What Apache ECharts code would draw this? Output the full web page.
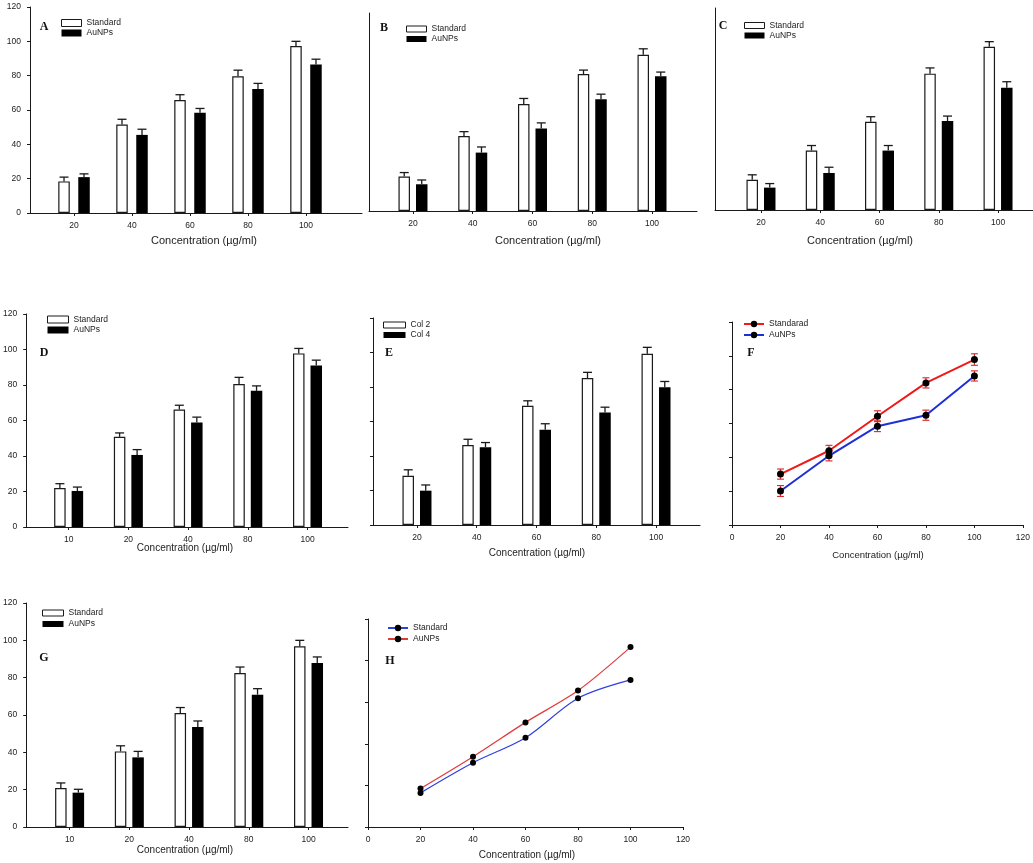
<!DOCTYPE html>
<html><head><meta charset="utf-8">
<script src="https://cdn.jsdelivr.net/npm/echarts@6/dist/echarts.min.js"></script>
<style>html,body{margin:0;padding:0;background:#fff}#c{width:1033px;height:863px}</style>
</head><body><div id="c"></div>
<script>
// ---------------- data ----------------
const concA = ['20', '40', '60', '80', '100'];
const concD = ['10', '20', '40', '80', '100'];
const lineX = [20, 40, 60, 80, 100];
const xTitle = 'Concentration (µg/ml)';

const aStd = [18.4, 51.5, 65.8, 79.7, 97.3];
const aStdErr = [2.5, 3.1, 3.1, 3.5, 2.7];
const aAu = [20.9, 45.5, 58.4, 72.2, 86.5];
const aAuErr = [1.9, 3.3, 2.5, 3.3, 3.1];

const bStd = [20.9, 45.5, 64.8, 83.0, 94.7];
const bStdErr = [2.4, 2.6, 3.4, 2.4, 3.6];
const bAu = [16.2, 35.4, 50.0, 67.8, 81.6];
const bAuErr = [2.6, 3.4, 3.4, 3.0, 2.6];

const cStd = [17.9, 35.3, 52.4, 81.0, 97.0];
const cStdErr = [3.0, 3.0, 3.0, 3.4, 3.0];
const cAu = [13.3, 22.0, 35.3, 52.8, 72.6];
const cAuErr = [2.4, 3.4, 3.0, 3.0, 3.6];

const dStd = [22.0, 50.8, 66.2, 80.5, 97.8];
const dStdErr = [2.4, 2.2, 2.4, 3.8, 2.8];
const dAu = [20.3, 40.6, 58.9, 76.7, 91.0];
const dAuErr = [2.2, 3.0, 3.0, 2.8, 3.0];

const eCol2 = [28.5, 46.4, 69.1, 85.2, 99.3];
const eCol2Err = [3.5, 3.3, 2.9, 3.3, 3.7];
const eCol4 = [19.9, 45.1, 55.2, 65.2, 79.9];
const eCol4Err = [3.3, 2.7, 3.5, 3.1, 3.3];

const fStd = [30.1, 43.9, 64.3, 84.0, 97.8];
const fStdErr = [3.0, 3.2, 3.2, 3.0, 3.4];
const fAu = [20.1, 40.9, 58.4, 64.9, 88.1];
const fAuErr = [3.2, 3.0, 3.2, 3.0, 3.0];

const gStd = [20.9, 40.5, 61.1, 82.5, 96.8];
const gStdErr = [2.7, 3.0, 2.9, 3.2, 3.2];
const gAu = [18.4, 37.3, 53.6, 70.9, 87.9];
const gAuErr = [1.8, 3.2, 3.2, 3.2, 3.2];

const hStd = [16.4, 30.9, 42.9, 61.9, 70.7];
const hAu = [18.5, 33.8, 50.3, 65.6, 86.5];

// ---------------- layout ----------------
const panels = [
  {key:'A', kind:'bar', grid:[30,7,332,206], xr:[0.241,5.966], cats:concA, names:['Standard','AuNPs'], s:[aStd,aAu], e:[aStdErr,aAuErr], yLab:true, yTick:true, bw:11.5, gap:8.5, letter:[44,27], leg:[61,18,20,7,0], title:[204,241,11]},
  {key:'B', kind:'bar', grid:[369,13,328,198], xr:[0.264,5.753], cats:concA, names:['Standard','AuNPs'], s:[bStd,bAu], e:[bStdErr,bAuErr], yLab:false, yTick:false, bw:11.5, gap:6, letter:[384,28], leg:[406,24,20,6,0], title:[548,241,11]},
  {key:'C', kind:'bar', grid:[715,8,318,202], xr:[0.224,5.59], cats:concA, names:['Standard','AuNPs'], s:[cStd,cAu], e:[cStdErr,cAuErr], yLab:false, yTick:false, bw:11.5, gap:6, letter:[723,26], leg:[744,20.5,20,6,0], title:[860,241,11]},
  {key:'D', kind:'bar', grid:[22,314,326,213], xr:[0.289,5.678], cats:concD, names:['Standard','AuNPs'], s:[dStd,dAu], e:[dStdErr,dAuErr], yLab:true, yTick:true, bw:11.5, gap:6, letter:[44,353], leg:[47,314.5,21,7,0.5], title:[185,548,10]},
  {key:'E', kind:'bar', grid:[373,318,327,207], xr:[0.264,5.736], cats:concA, names:['Col 2','Col 4'], s:[eCol2,eCol4], e:[eCol2Err,eCol4Err], yLab:false, yTick:true, bw:11.5, gap:6, letter:[389,353], leg:[383,320,22,6,0], title:[537,553,10]},
  {key:'F', kind:'line', grid:[732,322,294,203], ymax:120, names:['Standarad','AuNPs'], s:[fStd,fAu], e:[fStdErr,fAuErr], colors:['#f01818','#1f2fd8'], lw:2, sym:7, smooth:false, letter:[751,353], leg:[743,319,20,8,1], title:[878,555,9.5]},
  {key:'G', kind:'bar', grid:[22,603,326,224], xr:[0.273,5.661], cats:concD, names:['Standard','AuNPs'], s:[gStd,gAu], e:[gStdErr,gAuErr], yLab:true, yTick:true, bw:11.5, gap:6, letter:[44,658], leg:[42,608,21,6,1], title:[185,850,10]},
  {key:'H', kind:'line', grid:[368,619,315,208], ymax:100, names:['Standard','AuNPs'], s:[hStd,hAu], e:null, colors:['#2f3fe0','#e03a3a'], lw:1.2, sym:6, smooth:0.3, letter:[390,661], leg:[387,623,20,8,1], title:[527,855,10]}
];

const INK = '#1a1a1a';
const FONT = '"Liberation Sans", Arial, sans-serif';

function errRender(offset, capW, both, color, lw) {
  return function (params, api) {
    const x = api.value(0), y = api.value(1), e = api.value(2);
    const p = api.coord([x, y]);
    const up = api.coord([x, y + e]);
    const cx = p[0] + offset;
    const st = {stroke: color, lineWidth: lw};
    const ch = [
      {type:'line', shape:{x1:cx, y1:p[1], x2:cx, y2:up[1]}, style:st},
      {type:'line', shape:{x1:cx-capW/2, y1:up[1], x2:cx+capW/2, y2:up[1]}, style:st}
    ];
    if (both) {
      const dn = api.coord([x, y - e]);
      ch.push({type:'line', shape:{x1:cx, y1:p[1], x2:cx, y2:dn[1]}, style:st});
      ch.push({type:'line', shape:{x1:cx-capW/2, y1:dn[1], x2:cx+capW/2, y2:dn[1]}, style:st});
    }
    return {type:'group', children: ch};
  };
}

const option = {
  animation: false,
  backgroundColor: '#fff',
  grid: [], xAxis: [], yAxis: [], series: [], legend: [],
  graphic: {elements: []}
};

panels.forEach((p, gi) => {
  option.grid.push({left:p.grid[0], top:p.grid[1], width:p.grid[2], height:p.grid[3], containLabel:false});
  const axisLine = {show:true, onZero:false, lineStyle:{color:INK, width:1}};
  const lab = (show) => ({show:show, fontSize:8.5, color:'#222', fontFamily:FONT});
  const idx = [1,2,3,4,5];
  if (p.kind === 'bar') {
    option.xAxis.push({
      gridIndex: gi, type:'value', min:p.xr[0], max:p.xr[1],
      axisLine: axisLine, splitLine:{show:false},
      axisTick:{show:true, customValues: idx, length:3, lineStyle:{color:INK}},
      axisLabel:Object.assign(lab(true), {customValues: idx, margin:8, formatter: v => p.cats[Math.round(v) - 1]})
    });
    option.yAxis.push({
      gridIndex: gi, type:'value', min:0, max:120, interval:20,
      axisLine: axisLine, splitLine:{show:false},
      axisTick:{show:p.yTick, length:3, lineStyle:{color:INK}},
      axisLabel:Object.assign(lab(p.yLab), {margin:9})
    });
    const off = (p.bw + p.gap) / 2;
    p.names.forEach((nm, k) => {
      const white = k === 0;
      option.series.push({
        type:'bar', name: p.key + '|' + nm, xAxisIndex: gi, yAxisIndex: gi,
        barWidth: p.bw, barGap: (p.gap / p.bw * 100).toFixed(1) + '%',
        itemStyle: white ? {color:'#fff', borderColor:INK, borderWidth:1.2} : {color:'#000'},
        data: p.s[k].map((v, i) => [i + 1, v])
      });
      option.series.push({
        type:'custom', name: p.key + '|err' + k, xAxisIndex: gi, yAxisIndex: gi, z: 3,
        renderItem: errRender(white ? -off : off, 9, false, INK, 1.3),
        encode:{x:0, y:1},
        data: p.s[k].map((v, i) => [i + 1, v, p.e[k][i]])
      });
    });
    option.legend.push({
      left: p.leg[0], top: p.leg[1], orient:'vertical', itemWidth:p.leg[2], itemHeight:p.leg[3], itemGap:p.leg[4],
      padding:0, selectedMode:false,
      textStyle:{fontSize:8.5, color:'#222', fontFamily:FONT, lineHeight:10},
      formatter: n => n.split('|')[1],
      data: [
        {name:p.key + '|' + p.names[0], icon:'rect', itemStyle:{color:'#fff', borderColor:INK, borderWidth:1}},
        {name:p.key + '|' + p.names[1], icon:'rect', itemStyle:{color:'#000', borderWidth:0}}
      ]
    });
  } else {
    option.xAxis.push({
      gridIndex: gi, type:'value', min:0, max:120, interval:20,
      axisLine: axisLine, splitLine:{show:false},
      axisTick:{show:true, length:3, lineStyle:{color:INK}},
      axisLabel:Object.assign(lab(true), {margin:8})
    });
    option.yAxis.push({
      gridIndex: gi, type:'value', min:0, max:p.ymax, interval:20,
      axisLine: axisLine, splitLine:{show:false},
      axisTick:{show:true, length:3, lineStyle:{color:INK}},
      axisLabel: lab(false)
    });
    p.names.forEach((nm, k) => {
      option.series.push({
        type:'line', name: p.key + '|' + nm, xAxisIndex: gi, yAxisIndex: gi, z: 4,
        smooth: p.smooth, symbol:'circle', symbolSize:p.sym, showSymbol:true,
        lineStyle:{color:p.colors[k], width:p.lw},
        itemStyle:{color:'#000', borderWidth:0},
        data: lineX.map((x, i) => [x, p.s[k][i]])
      });
      if (p.e) {
        option.series.push({
          type:'custom', name: p.key + '|err' + k, xAxisIndex: gi, yAxisIndex: gi, z: 3,
          renderItem: errRender(0, 7, true, '#e02020', 1.1),
          encode:{x:0, y:1},
          data: lineX.map((x, i) => [x, p.s[k][i], p.e[k][i]])
        });
      }
    });
    option.legend.push({
      left: p.leg[0], top: p.leg[1], orient:'vertical', itemWidth:p.leg[2], itemHeight:p.leg[3], itemGap:p.leg[4],
      padding:0, selectedMode:false,
      textStyle:{fontSize:8.5, color:'#222', fontFamily:FONT, lineHeight:10},
      formatter: n => n.split('|')[1],
      data: p.names.map(nm => ({name: p.key + '|' + nm}))
    });
  }
  option.graphic.elements.push({
    type:'text', x:p.letter[0], y:p.letter[1], silent:true,
    style:{text:p.key, font:'bold 12px "Liberation Serif", "Times New Roman", serif', fill:'#111', textAlign:'center', textVerticalAlign:'middle'}
  });
  option.graphic.elements.push({
    type:'text', x:p.title[0], y:p.title[1], silent:true,
    style:{text:xTitle, font:p.title[2] + 'px ' + FONT, fill:'#222', textAlign:'center', textVerticalAlign:'middle'}
  });
});

const chart = echarts.init(document.getElementById('c'), null, {renderer:'canvas'});
chart.setOption(option);
</script>
</body></html>
